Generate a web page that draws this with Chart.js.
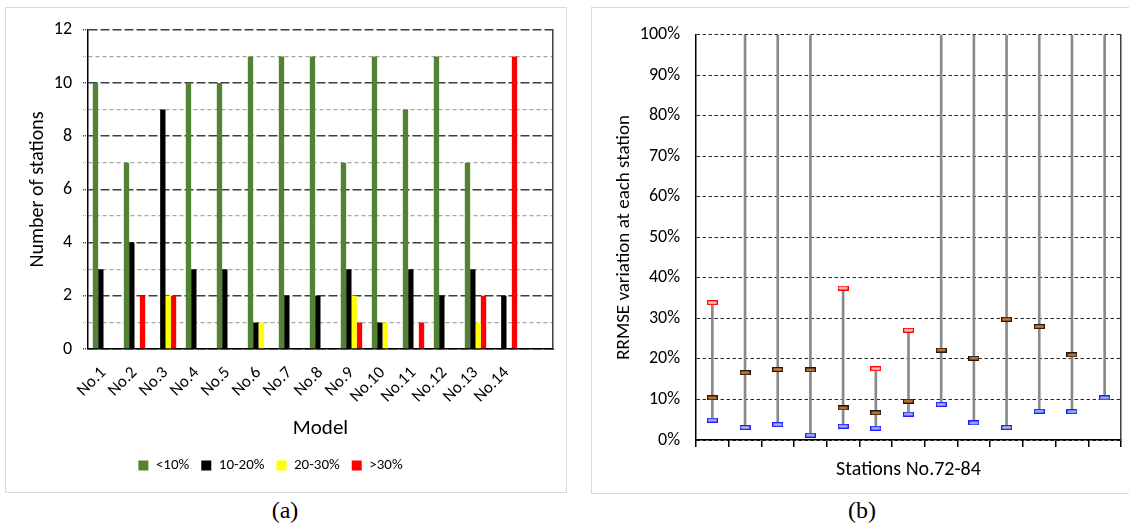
<!DOCTYPE html>
<html>
<head>
<meta charset="utf-8">
<script src="https://cdn.jsdelivr.net/npm/chart.js@4.4.1/dist/chart.umd.min.js"></script>
<style>
  html, body { margin: 0; padding: 0; background: #fff; }
  body { width: 1129px; height: 532px; position: relative; overflow: hidden; }
  .panel { position: absolute; box-sizing: border-box; border: 1px solid #d9d9d9; background: #fff; }
  #panelA { left: 5px; top: 7px; width: 562px; height: 486px; }
  #panelB { left: 591px; top: 7px; width: 545px; height: 487px; }
  canvas { position: absolute; }
  #chartA { left: 7px; top: 8px; }
  #chartB { left: 593px; top: 8px; }
  .caption { position: absolute; top: 497px; font-family: "Liberation Serif", "DejaVu Serif", serif; font-size: 24px; color: #000; transform: translateX(-50%); }
</style>
</head>
<body>
<div class="panel" id="panelA"></div>
<div class="panel" id="panelB"></div>
<canvas id="chartA" width="559" height="484"></canvas>
<canvas id="chartB" width="534" height="485"></canvas>
<div class="caption" style="left:285px">(a)</div>
<div class="caption" style="left:862px">(b)</div>
<script>
// ---- (a) number of stations per error class for each model ----
const models = ['No.1', 'No.2', 'No.3', 'No.4', 'No.5', 'No.6', 'No.7', 'No.8', 'No.9', 'No.10', 'No.11', 'No.12', 'No.13', 'No.14', ''];
const below10 = [10, 7, 0, 10, 10, 11, 11, 11, 7, 11, 9, 11, 7, 0];
const from10to20 = [3, 4, 9, 3, 3, 1, 2, 2, 3, 1, 3, 2, 3, 2];
const from20to30 = [0, 0, 2, 0, 0, 1, 0, 0, 2, 1, 0, 0, 1, 0];
const above30 = [0, 2, 2, 0, 0, 0, 0, 0, 1, 0, 1, 0, 2, 11];
const classNames = ['<10%', '10-20%', '20-30%', '>30%'];

// ---- (b) RRMSE spread at each station (percent) ----
const stations = ['No.72', 'No.73', 'No.74', 'No.75', 'No.76', 'No.77', 'No.78', 'No.79', 'No.80', 'No.81', 'No.82', 'No.83', 'No.84'];
// null: maximum lies above the 100 % axis limit
const rrmseMax = [33.9, null, null, null, 37.5, 17.6, 27.1, null, null, null, null, null, null];
const rrmseMid = [10.4, 16.6, 17.4, 17.3, 7.9, 6.7, 9.6, 22.2, 20.2, 29.8, 28.0, 21.0, null];
const rrmseMin = [4.9, 3.1, 3.8, 1.2, 3.4, 2.9, 6.4, 8.8, 4.2, 3.1, 7.1, 7.0, 10.4];
const pctTicks = [0, 10, 20, 30, 40, 50, 60, 70, 80, 90, 100];

const FONT = 'Carlito, Lato, "Open Sans", sans-serif';
Chart.defaults.font.family = FONT;
Chart.defaults.color = '#000';

function fixWidth(w) { return s => { s.width = w; }; }
function fixHeight(h) { return s => { s.height = h; }; }

// nudge the legend a little to the left of the canvas centre
const legendNudge = {
  id: 'legendNudge',
  afterLayout(chart) {
    const lg = chart.legend;
    if (!lg) return;
    lg.left -= 16;
    lg.right -= 16;
  }
};

new Chart(document.getElementById('chartA'), {
  type: 'bar',
  data: {
    labels: models,
    datasets: [
      { label: classNames[0], data: below10, backgroundColor: '#548235' },
      { label: classNames[1], data: from10to20, backgroundColor: '#000000' },
      { label: classNames[2], data: from20to30, backgroundColor: '#ffff00' },
      { label: classNames[3], data: above30, backgroundColor: '#ff0000' }
    ]
  },
  plugins: [legendNudge],
  options: {
    responsive: false,
    devicePixelRatio: 1,
    animation: false,
    layout: { padding: { top: 17, bottom: 9, left: 0, right: 0 } },
    datasets: { bar: { categoryPercentage: 0.69, barPercentage: 1.0, borderWidth: 0 } },
    plugins: {
      tooltip: { enabled: false },
      legend: {
        position: 'bottom',
        labels: { boxWidth: 10, boxHeight: 10, padding: 12, font: { size: 15 }, color: '#000' }
      }
    },
    scales: {
      x: {
        afterFit: fixHeight(97),
        grid: { display: false },
        border: { display: true, color: '#000', width: 1.5 },
        ticks: { autoSkip: false, maxRotation: 45, minRotation: 45, padding: 6, font: { size: 17 }, color: '#000' },
        title: { display: true, text: 'Model', font: { size: 21 }, color: '#000', padding: { top: 0, bottom: 5 } }
      },
      y: {
        min: 0, max: 12,
        afterFit: fixWidth(81),
        ticks: {
          stepSize: 1, padding: 11, font: { size: 18 }, color: '#000',
          callback: v => (v % 2 === 0 ? v : '')
        },
        grid: {
          color: c => (c.tick && c.tick.value % 2 === 0 ? '#3f3f3f' : '#a6a6a6'),
          lineWidth: c => (c.tick && c.tick.value % 2 === 0 ? 1.5 : 1.2),
          tickLength: 5,
          tickBorderDash: [1, 1]
        },
        border: {
          display: true, color: '#000', width: 1.5,
          dash: c => (c.tick && c.tick.value % 2 === 0 ? [9, 3] : [4, 3])
        },
        title: { display: true, text: 'Number of stations', font: { size: 20 }, color: '#000', padding: { top: 19, bottom: 0 } }
      },
      yEdge: {
        position: 'right', min: 0, max: 12,
        afterFit: fixWidth(13),
        ticks: { display: false },
        grid: { display: false, drawTicks: false },
        border: { display: true, color: '#3f3f3f', width: 1.5 }
      }
    }
  }
});

// small horizontal dash used as the marker for each statistic
function dashMarker(fill, stroke) {
  const c = document.createElement('canvas');
  c.width = 11; c.height = 5;
  const g = c.getContext('2d');
  g.fillStyle = fill;
  g.fillRect(0, 0, 11, 5);
  g.strokeStyle = stroke;
  g.lineWidth = 1.2;
  g.strokeRect(0.6, 0.6, 9.8, 3.8);
  return c;
}

const Y_MAX = 100;
const spread = stations.map((s, i) => [rrmseMin[i], rrmseMax[i] === null ? Y_MAX : rrmseMax[i]]);

function markerSet(values, fill, stroke) {
  return {
    type: 'line', data: values, showLine: false, order: 1,
    pointStyle: dashMarker(fill, stroke), pointRadius: 5, pointHoverRadius: 5
  };
}

new Chart(document.getElementById('chartB'), {
  type: 'bar',
  data: {
    labels: stations,
    datasets: [
      { data: spread, backgroundColor: '#8a8a8a', barThickness: 2, borderWidth: 0, order: 5 },
      markerSet(rrmseMax, '#f5c6c6', '#ff0000'),
      markerSet(rrmseMid, '#d4782c', '#1a1a1a'),
      markerSet(rrmseMin, '#a5b4ec', '#1f1fff')
    ]
  },
  options: {
    responsive: false,
    devicePixelRatio: 1,
    animation: false,
    layout: { padding: { top: 17, bottom: 0, left: 0, right: 0 } },
    plugins: { legend: { display: false }, tooltip: { enabled: false } },
    scales: {
      x: {
        afterFit: fixHeight(53),
        offset: true,
        grid: { display: true, offset: true, drawOnChartArea: false, drawTicks: true, tickLength: 7, color: '#000', lineWidth: 1.5 },
        border: { display: true, color: '#000', width: 1.5 },
        ticks: { display: false },
        title: { display: true, text: 'Stations No.72-84', font: { size: 20 }, color: '#000', padding: { top: 0, bottom: 11 } }
      },
      y: {
        min: 0, max: Y_MAX,
        afterFit: fixWidth(103),
        afterBuildTicks: s => { s.ticks = pctTicks.map(v => ({ value: v })); },
        ticks: { padding: 16, font: { size: 18 }, color: '#000', callback: v => v + '%' },
        grid: { color: '#262626', lineWidth: 1, drawTicks: false },
        border: { display: true, color: '#000', width: 1.5, dash: [3.5, 2.5] },
        title: { display: true, text: 'RRMSE variation at each station', font: { size: 19 }, color: '#000', padding: { top: 20, bottom: 0 } }
      },
      yEdge: {
        position: 'right', min: 0, max: Y_MAX,
        afterFit: fixWidth(2),
        ticks: { display: false },
        grid: { display: false, drawTicks: false },
        border: { display: true, color: '#3f3f3f', width: 1.5 }
      }
    }
  }
});
</script>
</body>
</html>
